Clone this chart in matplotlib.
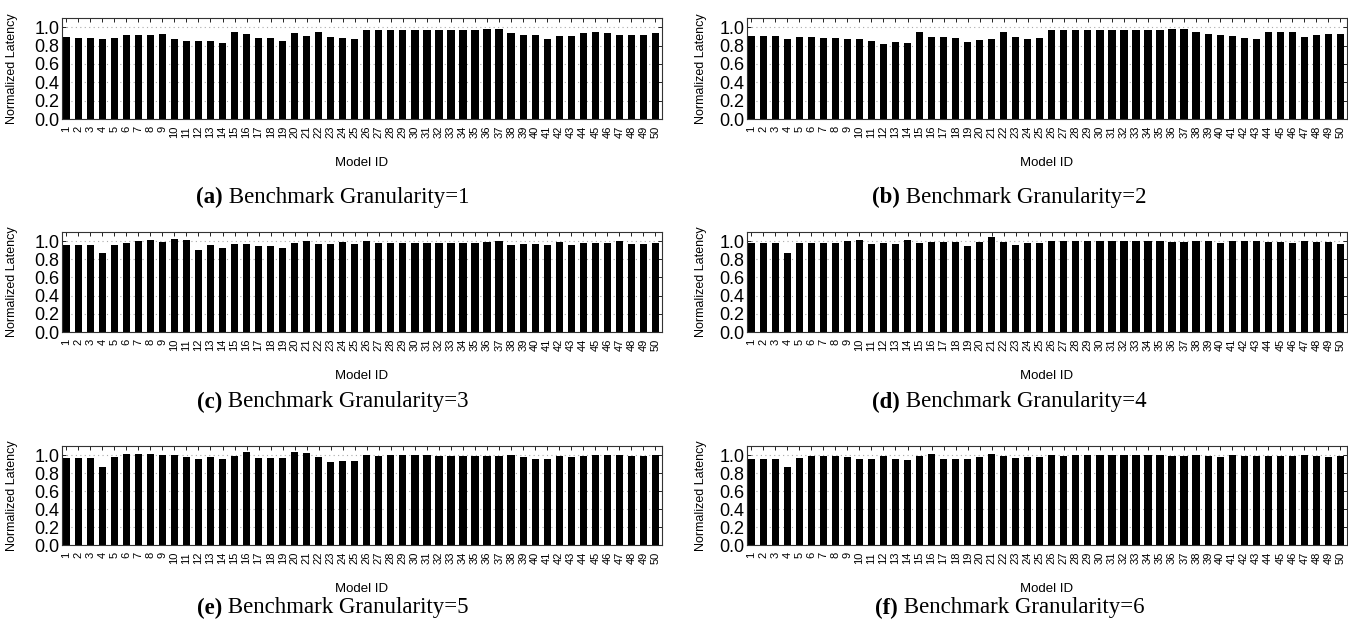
import matplotlib
matplotlib.use("Agg")
import matplotlib.pyplot as plt
import numpy as np

# Model IDs
model_ids = list(range(1, 51))

# Normalized latency per benchmark granularity
gran1 = [0.893, 0.886, 0.886, 0.868, 0.886, 0.915, 0.915, 0.915, 0.923, 0.875,
         0.853, 0.853, 0.853, 0.830, 0.952, 0.926, 0.886, 0.886, 0.846, 0.937,
         0.904, 0.952, 0.893, 0.879, 0.875, 0.974, 0.974, 0.974, 0.974, 0.974,
         0.974, 0.974, 0.974, 0.974, 0.974, 0.980, 0.980, 0.940, 0.915, 0.912,
         0.875, 0.900, 0.904, 0.940, 0.945, 0.940, 0.912, 0.919, 0.915, 0.940]
gran2 = [0.904, 0.900, 0.900, 0.868, 0.893, 0.893, 0.886, 0.886, 0.868, 0.871,
         0.846, 0.812, 0.842, 0.830, 0.945, 0.893, 0.897, 0.886, 0.835, 0.860,
         0.868, 0.948, 0.890, 0.875, 0.879, 0.974, 0.970, 0.974, 0.974, 0.974,
         0.974, 0.974, 0.974, 0.974, 0.974, 0.985, 0.978, 0.952, 0.926, 0.912,
         0.900, 0.879, 0.875, 0.945, 0.948, 0.945, 0.897, 0.919, 0.923, 0.930]
gran3 = [0.952, 0.956, 0.956, 0.871, 0.956, 0.974, 1.000, 1.011, 0.989, 1.022,
         1.011, 0.904, 0.956, 0.923, 0.971, 0.967, 0.945, 0.945, 0.919, 0.978,
         1.000, 0.967, 0.963, 0.985, 0.971, 0.996, 0.982, 0.982, 0.982, 0.982,
         0.982, 0.982, 0.982, 0.982, 0.982, 0.985, 0.996, 0.960, 0.967, 0.967,
         0.952, 0.993, 0.952, 0.978, 0.978, 0.982, 1.004, 0.971, 0.971, 0.982]
gran4 = [0.982, 0.982, 0.982, 0.868, 0.982, 0.974, 0.974, 0.974, 0.996, 1.011,
         0.971, 0.978, 0.963, 1.011, 0.982, 0.989, 0.989, 0.989, 0.949, 0.993,
         1.048, 0.985, 0.960, 0.982, 0.982, 0.996, 0.996, 0.996, 0.996, 0.996,
         0.996, 0.996, 0.996, 0.996, 0.996, 0.989, 0.993, 0.996, 0.996, 0.974,
         0.996, 1.000, 1.000, 0.985, 0.989, 0.982, 1.004, 0.985, 0.985, 0.967]
gran5 = [0.971, 0.971, 0.971, 0.871, 0.978, 1.015, 1.015, 1.007, 0.996, 1.000,
         0.974, 0.956, 0.982, 0.952, 0.985, 1.029, 0.971, 0.967, 0.963, 1.037,
         1.026, 0.982, 0.923, 0.930, 0.934, 0.996, 0.993, 0.996, 0.996, 0.996,
         0.996, 0.993, 0.993, 0.993, 0.993, 0.993, 0.993, 0.996, 0.974, 0.960,
         0.952, 0.985, 0.978, 0.993, 1.004, 0.996, 1.004, 0.989, 0.989, 1.000]
gran6 = [0.960, 0.960, 0.960, 0.868, 0.963, 0.989, 0.985, 0.985, 0.974, 0.960,
         0.960, 0.985, 0.960, 0.945, 0.989, 1.007, 0.960, 0.960, 0.956, 0.974,
         1.007, 0.989, 0.963, 0.978, 0.974, 0.996, 0.993, 0.996, 0.996, 1.000,
         1.000, 0.996, 1.000, 1.000, 0.996, 0.993, 0.993, 0.996, 0.993, 0.982,
         1.000, 0.993, 0.989, 0.989, 0.993, 0.985, 1.004, 0.993, 0.974, 0.993]

series = [gran1, gran2, gran3, gran4, gran5, gran6]
letters = ["a", "b", "c", "d", "e", "f"]
granularities = [1, 2, 3, 4, 5, 6]
yticks = [0.0, 0.2, 0.4, 0.6, 0.8, 1.0]

plt.rcParams["font.family"] = ["Liberation Sans", "DejaVu Sans"]

fig = plt.figure(figsize=(13.48, 6.35), dpi=100)

W, H = 1348, 635
lefts = [62, 747]
tops = [18, 232, 446]
bottoms = [119, 332, 545]
ax_w = 600
ylab_x = [-0.0735, -0.067]

axes = []
for i, vals in enumerate(series):
    row, col = divmod(i, 2)
    l = lefts[col] / W
    b = 1 - bottoms[row] / H
    h = (bottoms[row] - tops[row]) / H
    ax = fig.add_axes([l, b, ax_w / W, h])
    ax.bar(model_ids, vals, width=0.6, color="black", zorder=3)
    ax.set_xlim(0.65, 50.55)
    ax.set_ylim(0, 1.1)
    ax.set_yticks(yticks)
    ax.set_yticklabels(["%.1f" % v for v in yticks], fontsize=13)
    ax.set_xticks(model_ids)
    ax.set_xticklabels([str(m) for m in model_ids], rotation=90, fontsize=8)
    ax.tick_params(axis="x", direction="in", top=True, length=3, width=0.6, pad=5)
    ax.tick_params(axis="y", direction="in", right=True, length=3, width=0.6, pad=2)
    ax.grid(axis="y", linestyle=(0, (1, 3)), color="#aaaaaa", linewidth=0.8, zorder=0)
    for s in ax.spines.values():
        s.set_linewidth(0.8)
        s.set_color("#333333")
        s.set_zorder(4)
    ax.set_xlabel("Model ID", fontsize=9.5, labelpad=13)
    ax.set_ylabel("Normalized Latency", fontsize=9)
    ax.yaxis.set_label_coords(ylab_x[col], 0.5)
    axes.append(ax)

# captions: bold "(x)" followed by normal text, centred under each column
cap_y = [1 - 197 / H, 1 - 402 / H, 1 - 608 / H]
cap_x = [0.247, 0.749]
renderer = fig.canvas.get_renderer()
for i, g in enumerate(granularities):
    row, col = divmod(i, 2)
    t1 = fig.text(0, cap_y[row], "(%s)" % letters[i], fontsize=16.5,
                  family="Liberation Serif", weight="bold", va="center")
    t2 = fig.text(0, cap_y[row], " Benchmark Granularity=%d" % g, fontsize=16.5,
                  family="Liberation Serif", va="center")
    w1 = t1.get_window_extent(renderer).width / W
    w2 = t2.get_window_extent(renderer).width / W
    x0 = cap_x[col] - (w1 + w2) / 2
    t1.set_x(x0)
    t2.set_x(x0 + w1)

fig.savefig("out.png", dpi=100)
